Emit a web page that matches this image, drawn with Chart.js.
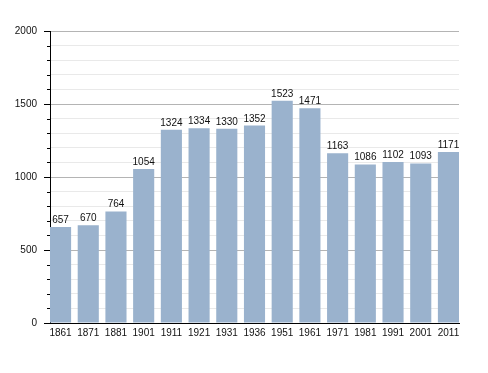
<!DOCTYPE html>
<html>
<head>
<meta charset="utf-8">
<script src="https://cdn.jsdelivr.net/npm/chart.js@4/dist/chart.umd.min.js"></script>
<style>
  html, body { margin: 0; padding: 0; background: #fff; }
  #wrap { width: 488px; height: 373px; }
</style>
</head>
<body>
<div id="wrap"><canvas id="pop" width="488" height="373"></canvas></div>
<script>
const years = ['1861', '1871', '1881', '1901', '1911', '1921', '1931', '1936', '1951', '1961', '1971', '1981', '1991', '2001', '2011']
const population = [657, 670, 764, 1054, 1324, 1334, 1330, 1352, 1523, 1471, 1163, 1086, 1102, 1093, 1171]
const yLabels = [0, 500, 1000, 1500, 2000]

const FONT = '"Liberation Sans", Arial, sans-serif'

// numbers above each bar
const barValues = {
    id: 'barValues',
    afterDatasetsDraw(chart) {
        const ctx = chart.ctx
        const meta = chart.getDatasetMeta(0)
        ctx.save()
        ctx.font = '10px ' + FONT
        ctx.fillStyle = '#111'
        ctx.textAlign = 'center'
        ctx.textBaseline = 'alphabetic'
        meta.data.forEach((bar, i) => {
            ctx.fillText(population[i], bar.x, bar.y - 4)
        })
        ctx.restore()
    }
}

// short tick marks for the minor (non labelled) y steps
const minorTicks = {
    id: 'minorTicks',
    afterDraw(chart) {
        const ctx = chart.ctx
        const y = chart.scales.y
        ctx.save()
        ctx.strokeStyle = '#000'
        ctx.lineWidth = 1
        y.ticks.forEach(t => {
            if (yLabels.includes(t.value)) return
            const py = Math.round(y.getPixelForValue(t.value)) + 0.5
            ctx.beginPath()
            ctx.moveTo(y.right - 3, py)
            ctx.lineTo(y.right, py)
            ctx.stroke()
        })
        ctx.restore()
    }
}

Chart.defaults.font.family = FONT
Chart.defaults.font.size = 10
Chart.defaults.color = '#111'

const ctx = document.querySelector('#pop')
const popChart = new Chart(ctx, {
    type: 'bar',
    data: {
        datasets: [{
            data: population.map((v, i) => ({ x: i, y: v })),
            backgroundColor: '#9ab2cd',
            barPercentage: 0.762,
            categoryPercentage: 1
        }]
    },
    options: {
        responsive: false,
        animation: false,
        layout: { padding: { top: 31, right: 29, left: 0, bottom: 0 } },
        plugins: {
            legend: { display: false },
            tooltip: { enabled: false }
        },
        scales: {
            x: {
                type: 'linear',
                min: -0.381,
                max: years.length - 1 + 0.381,
                offset: false,
                grid: { display: false, drawTicks: false },
                border: { color: '#000', width: 1 },
                afterBuildTicks: scale => {
                    scale.ticks = years.map((y, i) => ({ value: i }))
                },
                ticks: {
                    padding: 4,
                    color: '#111',
                    autoSkip: false,
                    maxRotation: 0,
                    minRotation: 0,
                    callback: v => years[v]
                },
                afterFit: scale => { scale.height = 50 }
            },
            y: {
                min: 0,
                max: 2000,
                ticks: {
                    stepSize: 100,
                    autoSkip: false,
                    padding: 7,
                    color: '#111',
                    callback: v => yLabels.includes(v) ? v : ''
                },
                grid: {
                    color: c => c.tick.value % 500 === 0 ? '#b4b4b4' : '#e9e9e9',
                    tickColor: c => c.tick.value % 500 === 0 ? '#000' : 'rgba(0,0,0,0)',
                    tickLength: 6
                },
                border: { color: '#000', width: 1 },
                afterFit: scale => { scale.width = 50 }
            }
        }
    },
    plugins: [barValues, minorTicks]
})
</script>
</body>
</html>
